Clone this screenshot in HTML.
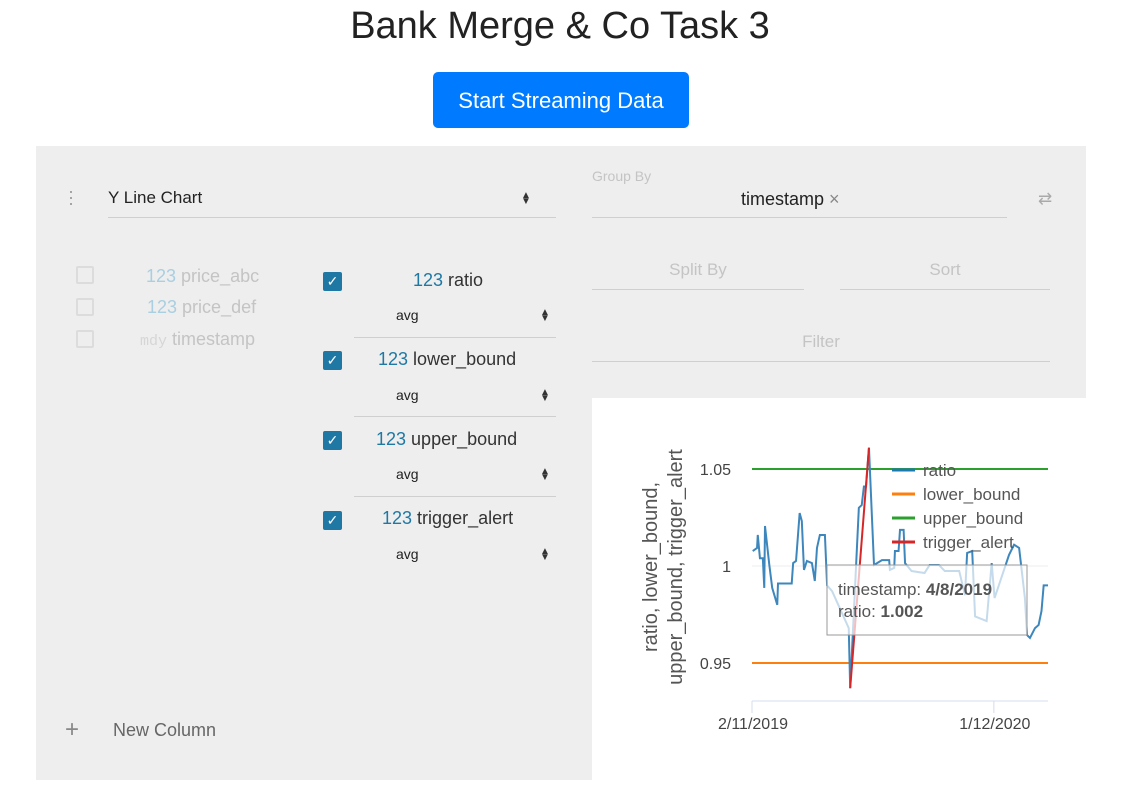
<!DOCTYPE html>
<html><head><meta charset="utf-8">
<style>
*{margin:0;padding:0;box-sizing:border-box}
body{width:1141px;height:811px;background:#fff;font-family:"Liberation Sans",sans-serif;position:relative;overflow:hidden}
.a{position:absolute}
.t{white-space:nowrap}
.gray{color:#c4c4c4}
.line{position:absolute;height:1px;background:#cfcfcf}
.cb{position:absolute;width:18px;height:18px;border:2px solid #dcdcdc;border-radius:2px}
.cbon{position:absolute;width:19px;height:19px;background:#1f78a4;border-radius:2px;color:#fff;font-size:14px;line-height:19px;text-align:center}
.num{color:#1f78a4}
.sel{position:absolute;font-size:14px;color:#222}
.arr{position:absolute;font-size:10px;color:#333;line-height:6px}
</style></head><body>
<div class="a t" style="left:0;width:1120px;top:5px;text-align:center;font-size:38px;color:#222">Bank Merge &amp; Co Task 3</div>
<div class="a t" style="left:433px;top:72px;width:256px;height:56px;background:#007bff;border-radius:5px;color:#fff;font-size:22px;line-height:58px;text-align:center">Start Streaming Data</div>

<div class="a" style="left:36px;top:146px;width:1050px;height:634px;background:#eeeeee"></div>

<div class="a t" style="left:68px;top:188px;color:#999;font-size:18px;line-height:6px">·<br>·<br>·</div>
<div class="a t" style="left:108px;top:188px;font-size:17px;color:#222">Y Line Chart</div>
<div class="arr" style="left:521px;top:193px">▲<br>▼</div>
<div class="line" style="left:108px;top:217px;width:448px"></div>

<div class="cb" style="left:76px;top:266px"></div>
<div class="cb" style="left:76px;top:298px"></div>
<div class="cb" style="left:76px;top:330px"></div>
<div class="a t gray" style="left:146px;top:266px;font-size:18px"><span style="color:#a9cfe0">123</span> price_abc</div>
<div class="a t gray" style="left:147px;top:297px;font-size:18px"><span style="color:#a9cfe0">123</span> price_def</div>
<div class="a t gray" style="left:140px;top:329px;font-size:18px"><span style="color:#d6d6d6;font-family:'Liberation Mono',monospace;font-size:15px">mdy</span> timestamp</div>

<div class="cbon" style="left:323px;top:272px">✓</div>
<div class="a t" style="left:413px;top:270px;font-size:18px;color:#333"><span class="num">123</span> ratio</div>
<div class="sel" style="left:396px;top:307px">avg</div>
<div class="arr" style="left:540px;top:310px">▲<br>▼</div>
<div class="line" style="left:354px;top:337px;width:202px"></div>

<div class="cbon" style="left:323px;top:351px">✓</div>
<div class="a t" style="left:378px;top:349px;font-size:18px;color:#333"><span class="num">123</span> lower_bound</div>
<div class="sel" style="left:396px;top:387px">avg</div>
<div class="arr" style="left:540px;top:390px">▲<br>▼</div>
<div class="line" style="left:354px;top:416px;width:202px"></div>

<div class="cbon" style="left:323px;top:431px">✓</div>
<div class="a t" style="left:376px;top:429px;font-size:18px;color:#333"><span class="num">123</span> upper_bound</div>
<div class="sel" style="left:396px;top:466px">avg</div>
<div class="arr" style="left:540px;top:469px">▲<br>▼</div>
<div class="line" style="left:354px;top:496px;width:202px"></div>

<div class="cbon" style="left:323px;top:511px">✓</div>
<div class="a t" style="left:382px;top:508px;font-size:18px;color:#333"><span class="num">123</span> trigger_alert</div>
<div class="sel" style="left:396px;top:546px">avg</div>
<div class="arr" style="left:540px;top:549px">▲<br>▼</div>

<div class="a t" style="left:65px;top:716px;font-size:24px;color:#888">+</div>
<div class="a t" style="left:113px;top:720px;font-size:18px;color:#666">New Column</div>

<div class="a t" style="left:592px;top:168px;font-size:14px;color:#c4c4c4">Group By</div>
<div class="a t" style="left:741px;top:189px;font-size:18px;color:#222">timestamp <span style="color:#888">×</span></div>
<div class="line" style="left:592px;top:217px;width:415px"></div>
<div class="a t" style="left:1038px;top:189px;font-size:17px;color:#aaa">⇄</div>
<div class="a t gray" style="left:592px;width:212px;text-align:center;top:260px;font-size:17px">Split By</div>
<div class="line" style="left:592px;top:289px;width:212px"></div>
<div class="a t gray" style="left:840px;width:210px;text-align:center;top:260px;font-size:17px">Sort</div>
<div class="line" style="left:840px;top:289px;width:210px"></div>
<div class="a t gray" style="left:592px;width:458px;text-align:center;top:332px;font-size:17px">Filter</div>
<div class="line" style="left:592px;top:361px;width:458px"></div>

<svg class="a" style="left:592px;top:398px" width="494" height="382" viewBox="592 398 494 382" font-family="Liberation Sans, sans-serif">
<rect x="592" y="398" width="494" height="382" fill="#fff"/>
<g id="grid"></g><g id="series"></g><g id="axes"></g>
</svg>

<script>
const dayOffsets=[1,7,8,11,15,17,18,24,28,35,36,55,57,61,66,69,72,76,83,87,90,94,101,104,111,134,136,148,152,155,158,162,165,169,180,190,191,197,198,203,205,210,212,221,239,246,259,267,287,295,298,305,309,325,332,336,356,363,370,378,381,385,392,397,401,404,410];
const ratioValues=[1.0077,1.0093,1.016,1.004,1.004,0.9887,1.0206,1.0005,0.9887,0.980,0.991,0.991,1.0015,1.0026,1.0273,1.0232,0.998,1.0026,1.0015,0.9923,1.0093,1.016,1.016,0.990,0.987,0.968,0.937,1.030,1.0314,1.041,1.041,1.061,1.035,1.0005,1.003,1.003,0.998,0.999,1.0077,1.0077,1.0186,1.0186,1.0015,0.9974,0.9964,1.0005,1.0005,0.9974,0.9974,0.985,1.0067,1.0077,0.974,0.9716,1.0015,0.9835,1.0057,1.011,1.0093,0.9835,0.9644,0.9629,0.968,0.9696,0.9768,0.990,0.990];
const lowerBound=0.95;
const upperBound=1.05;
const alertDays=[136,162];
const alertValues=[0.937,1.061];
const yTicks=[0.95,1,1.05];
const yTickLabels=["0.95","1","1.05"];
const xTickDays=[0,335];
const xTickLabels=["2/11/2019","1/12/2020"];
const seriesNames=["ratio","lower_bound","upper_bound","trigger_alert"];
const seriesColors=["#1f77b4","#ff7f0e","#2ca02c","#d62728"];

const NS="http://www.w3.org/2000/svg";
const X0=752,X1=1048,DMAX=410;
const xs=d=>X0+(d/DMAX)*(X1-X0);
const ys=v=>566-(v-1)*(97/0.05);
function mk(tag,attrs,parent){const e=document.createElementNS(NS,tag);for(const k in attrs)e.setAttribute(k,attrs[k]);parent.appendChild(e);return e;}
const grid=document.getElementById('grid'),ser=document.getElementById('series'),axes=document.getElementById('axes');
yTicks.forEach((v,i)=>{
  const g=mk('line',{x1:X0,x2:X1,y1:ys(v),y2:ys(v),stroke:'#eee'},grid);
  
  
  const t=mk('text',{x:731,y:ys(v)+6,'text-anchor':'end','font-size':16,fill:'#444'},axes);
  t.textContent=yTickLabels[i];
  
  
});
const ax=mk('line',{x1:X0,x2:X1,y1:701,y2:701,stroke:'#d6dcef'},axes);


xTickDays.forEach((d,i)=>{
  mk('line',{x1:xs(d),x2:xs(d),y1:701,y2:713,stroke:'#d6dcef'},axes);
  const t=mk('text',{x:xs(d)+1,y:729,'text-anchor':'middle','font-size':16,fill:'#444'},axes);
  t.textContent=xTickLabels[i];
  
  
});
const lb=mk('line',{x1:X0,x2:X1,y1:ys(lowerBound),y2:ys(lowerBound),stroke:seriesColors[1],'stroke-width':2},ser);


const ub=mk('line',{x1:X0,x2:X1,y1:ys(upperBound),y2:ys(upperBound),stroke:seriesColors[2],'stroke-width':2},ser);


const rp=mk('polyline',{points:dayOffsets.map((d,i)=>xs(d)+','+ys(ratioValues[i])).join(' '),fill:'none',stroke:'#3d87bd','stroke-width':2},ser);


const ap=mk('polyline',{points:alertDays.map((d,i)=>xs(d)+','+ys(alertValues[i])).join(' '),fill:'none',stroke:seriesColors[3],'stroke-width':2},ser);


seriesNames.forEach((n,i)=>{
  const y=470+i*24;
  const l=mk('line',{x1:892,x2:915,y1:y,y2:y,stroke:seriesColors[i],'stroke-width':3},axes);
  
  
  const t=mk('text',{x:923,y:y+6,'font-size':17,fill:'#555'},axes);
  t.textContent=n;
  
  
});
const yt=mk('text',{transform:'translate(657,567) rotate(-90)','text-anchor':'middle','font-size':20,fill:'#555'},axes);
yt.innerHTML='<tspan x="0" dy="0">ratio, lower_bound,</tspan><tspan x="0" dy="25">upper_bound, trigger_alert</tspan>';


const tip=mk('rect',{x:827,y:565,width:200,height:70,fill:'rgba(255,255,255,0.7)',stroke:'#999','stroke-width':1},axes);


const t1=mk('text',{x:838,y:595,'font-size':17,fill:'#555'},axes);
t1.innerHTML='timestamp: <tspan font-weight="bold">4/8/2019</tspan>';


const t2=mk('text',{x:838,y:617,'font-size':17,fill:'#555'},axes);
t2.innerHTML='ratio: <tspan font-weight="bold">1.002</tspan>';


</script>
</body></html>
